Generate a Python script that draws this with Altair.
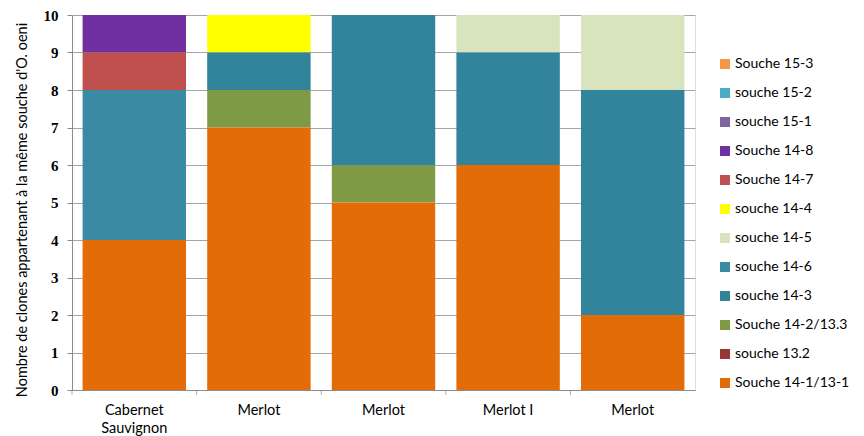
import altair as alt
import pandas as pd

categories = ["Cabernet Sauvignon", "Merlot", "Merlot", "Merlot I", "Merlot"]
category_lines = [["Cabernet", "Sauvignon"], ["Merlot"], ["Merlot"], ["Merlot I"], ["Merlot"]]

# legend order (top to bottom)
strains = ["Souche 15-3", "souche 15-2", "souche 15-1", "Souche 14-8", "Souche 14-7",
           "souche 14-4", "souche 14-5", "souche 14-6", "souche 14-3",
           "Souche 14-2/13.3", "souche 13.2", "Souche 14-1/13-1"]
colors = ["#F79646", "#4BACC6", "#8064A2", "#7030A0", "#C0504D",
          "#FFFF00", "#D7E4BD", "#3A8AA3", "#31849B",
          "#7F9A45", "#953735", "#E36C09"]

counts = {
    "Souche 14-1/13-1": [4, 7, 5, 6, 2],
    "souche 13.2": [0, 0, 0, 0, 0],
    "Souche 14-2/13.3": [0, 1, 1, 0, 0],
    "souche 14-3": [0, 1, 4, 3, 6],
    "souche 14-6": [4, 0, 0, 0, 0],
    "souche 14-5": [0, 0, 0, 1, 2],
    "souche 14-4": [0, 1, 0, 0, 0],
    "Souche 14-7": [1, 0, 0, 0, 0],
    "Souche 14-8": [1, 0, 0, 0, 0],
    "souche 15-1": [0, 0, 0, 0, 0],
    "souche 15-2": [0, 0, 0, 0, 0],
    "Souche 15-3": [0, 0, 0, 0, 0],
}

rows = []
for s in strains:
    for i, v in enumerate(counts[s]):
        if v > 0:
            rows.append({"idx": i, "cat": categories[i], "strain": s, "n": v,
                         "ord": len(strains) - 1 - strains.index(s)})
df = pd.DataFrame(rows)

label_js = "[" + ",".join("[" + ",".join("'%s'" % p for p in parts) + "]" for parts in category_lines) + "]"

W, H = 623, 375
bars = alt.Chart(df).mark_bar(stroke=None, width=alt.RelativeBandSize(0.83)).encode(
    x=alt.X("idx:O", title=None,
            scale=alt.Scale(paddingInner=0, paddingOuter=0),
            axis=alt.Axis(labelExpr=label_js + "[datum.value]", labelAngle=0,
                          ticks=False, labelAlign="center",
                          labelFont="Lato", labelFontSize=14.5, labelColor="#000",
                          labelPadding=13, labelLineHeight=18,
                          domainColor="#8c8c8c", labelBaseline="top")),
    y=alt.Y("n:Q", stack="zero",
            scale=alt.Scale(domain=[0, 10]),
            axis=alt.Axis(values=list(range(0, 11)), grid=True, gridColor="#a6a6a6",
                          domainColor="#8c8c8c", tickColor="#8c8c8c", tickSize=5,
                          labelFont="Liberation Serif", labelFontSize=15,
                          labelFontWeight="bold", labelColor="#000", labelPadding=9,
                          title="Nombre de clones appartenant à la même souche d'O. oeni",
                          titleFont="Lato", titleFontSize=14.5, titleFontWeight="normal",
                          titleColor="#000", titleAngle=-90, titleX=-50, titleY=H / 2 + 7,
                          titleAlign="center", titleBaseline="middle")),
    color=alt.Color("strain:N",
                    scale=alt.Scale(domain=strains, range=colors),
                    legend=alt.Legend(title=None, orient="none", legendX=646, legendY=42,
                                      symbolType="square", symbolSize=100,
                                      symbolStrokeWidth=0, labelFont="Lato",
                                      labelFontSize=14, labelColor="#000",
                                      rowPadding=15, labelOffset=3)),
    order=alt.Order("ord:Q"),
)

ticks = alt.Chart(pd.DataFrame({"idx": list(range(len(categories)))})).mark_tick(
    color="#8c8c8c", thickness=1, size=5, orient="vertical"
).encode(
    x=alt.X("idx:O", bandPosition=0),
    y=alt.value(H + 2.5),
)

chart = alt.layer(bars, ticks).properties(
    width=W, height=H,
    autosize=alt.AutoSizeParams(type="none"),
    padding={"left": 72, "top": 15, "right": 169, "bottom": 46},
).configure_view(stroke=None).configure(background="white")

chart.save("out.html", embed_options={"renderer": "svg", "actions": False})
